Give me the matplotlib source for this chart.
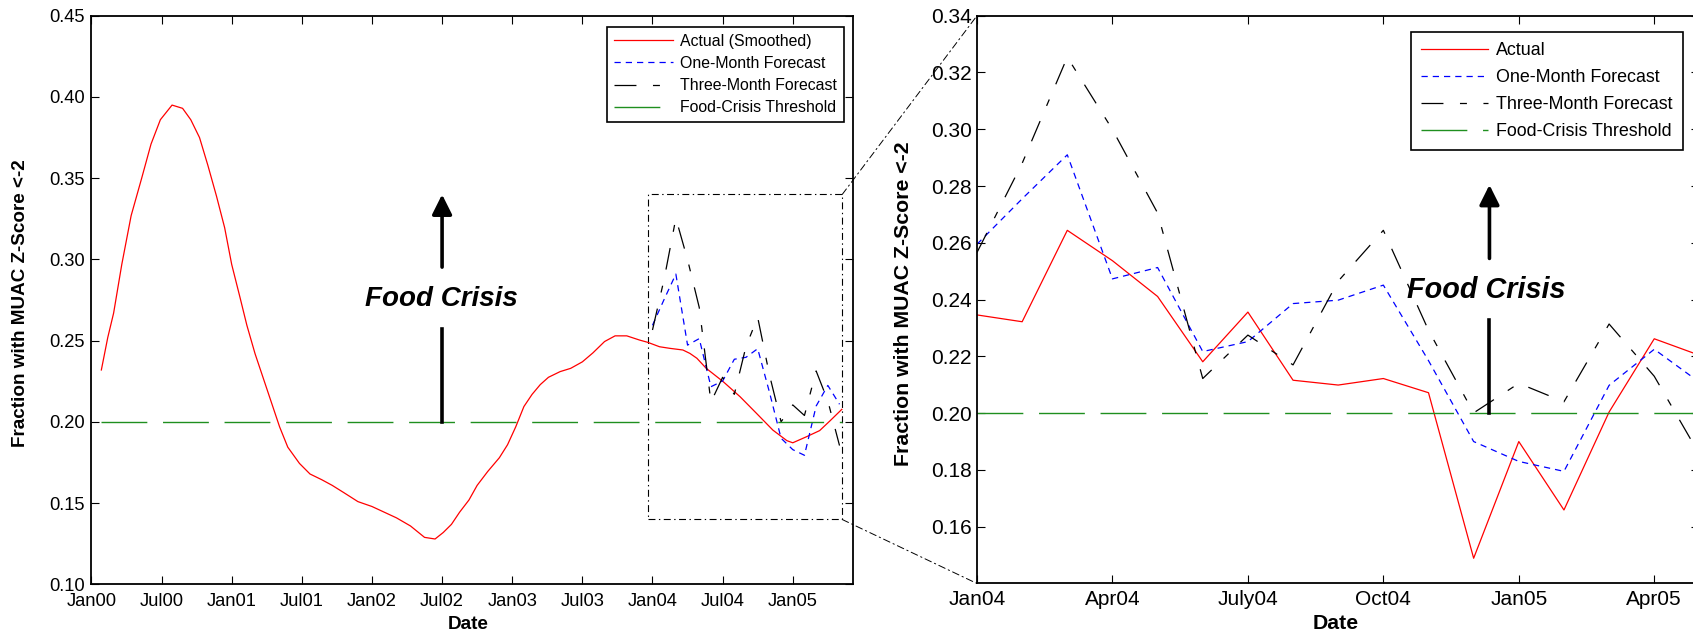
import numpy as np
import matplotlib
matplotlib.use('Agg')
import matplotlib.pyplot as plt
from matplotlib.patches import ConnectionPatch, Rectangle

plt.rcParams['font.family'] = ['Liberation Sans', 'DejaVu Sans']
plt.rcParams['lines.scale_dashes'] = False

# smoothed series, x = months since Jan00
smooth_month = [0.85, 1.4, 1.9, 2.6, 3.4, 4.3, 5.1, 5.9, 6.9, 7.8, 8.5, 9.25, 9.96, 10.7,
                11.4, 12.0, 12.7, 13.3, 14.0, 14.7, 15.4, 16.1, 16.8, 17.8, 18.7, 19.7,
                20.6, 21.6, 22.8, 24.0, 24.9, 26.1, 27.3, 28.5, 29.4, 30.1, 30.8, 31.5,
                32.3, 33.0, 33.9, 34.9, 35.6, 36.3, 37.0, 37.7, 38.4, 39.1, 40.1, 41.0,
                42.0, 42.9, 43.9, 44.8, 45.8, 46.9, 47.6, 48.6, 49.5, 50.6, 51.2, 51.8,
                52.6, 54.05, 55.5, 56.9, 58.3, 59.5, 60.0, 61.2, 62.3, 63.2, 64.2]
smooth_value = [0.232, 0.252, 0.267, 0.297, 0.327, 0.350, 0.371, 0.386, 0.395, 0.393, 0.386,
                0.375, 0.358, 0.339, 0.3195, 0.297, 0.277, 0.2595, 0.242, 0.227, 0.212,
                0.197, 0.1845, 0.1745, 0.168, 0.1645, 0.161, 0.1565, 0.151, 0.148, 0.145,
                0.141, 0.136, 0.129, 0.128, 0.132, 0.137, 0.1445, 0.152, 0.161, 0.1695,
                0.178, 0.186, 0.197, 0.2095, 0.217, 0.223, 0.2275, 0.231, 0.233, 0.237,
                0.2425, 0.2495, 0.253, 0.253, 0.2504, 0.249, 0.2463, 0.2453, 0.2443,
                0.2422, 0.2392, 0.233, 0.2248, 0.2155, 0.2053, 0.195, 0.1885, 0.1872,
                0.191, 0.1947, 0.2008, 0.2078]

# monthly values Jan04 .. May05
fc_month = list(range(48, 65))
actual = [0.2346, 0.2322, 0.2644, 0.2537, 0.2411, 0.2181, 0.2356, 0.2116, 0.2099,
          0.2122, 0.2072, 0.1489, 0.1900, 0.1659, 0.2004, 0.2262, 0.2204]
one_month = [0.2595, 0.2755, 0.2910, 0.2473, 0.2513, 0.2217, 0.2252, 0.2386, 0.2398,
             0.2451, 0.2185, 0.1900, 0.1830, 0.1795, 0.2098, 0.2225, 0.2109]
three_month = [0.2566, 0.2880, 0.3254, 0.2999, 0.2705, 0.2122, 0.2275, 0.2170, 0.2465,
               0.2644, 0.2292, 0.2001, 0.2105, 0.2040, 0.2314, 0.2130, 0.1855]
threshold = 0.20

left_ticks = list(range(0, 61, 6))
left_labels = ['Jan00', 'Jul00', 'Jan01', 'Jul01', 'Jan02', 'Jul02', 'Jan03', 'Jul03',
               'Jan04', 'Jul04', 'Jan05']
right_ticks = [48, 51, 54, 57, 60, 63]
right_labels = ['Jan04', 'Apr04', 'July04', 'Oct04', 'Jan05', 'Apr05']

red = dict(color='red', lw=0.9)
blue = dict(color='blue', lw=0.9, ls=(0, (4.5, 3.6)))
black = dict(color='black', lw=0.9, ls=(0, (15.8, 11.9, 5, 11.9)))
green = dict(color='#1f8f1f', lw=1.0, ls=(0, (33, 11.3)))

fig = plt.figure(figsize=(16.93, 6.37), dpi=100)
ax1 = fig.add_axes([0.05399, 0.08242, 0.45003, 0.89293])
ax2 = fig.add_axes([0.57708, 0.08399, 0.4267, 0.89137])

# ---- left: whole period
ax1.plot(smooth_month, smooth_value, label='Actual (Smoothed)', **red)
ax1.plot(fc_month, one_month, label='One-Month Forecast', **blue)
ax1.plot(fc_month, three_month, label='Three-Month Forecast', **black)
ax1.plot([smooth_month[0], smooth_month[-1]], [threshold, threshold],
         label='Food-Crisis Threshold', **green)

ax1.set_xlim(0, 65.18)
ax1.set_ylim(0.10, 0.45)
ax1.set_xticks(left_ticks)
ax1.set_xticklabels(left_labels)
ax1.set_yticks(np.arange(0.10, 0.451, 0.05))
ax1.set_yticklabels(['%.2f' % v for v in np.arange(0.10, 0.451, 0.05)])
ax1.tick_params(direction='in', top=True, right=True, length=6, width=0.8, labelsize=13.25)
ax1.tick_params(axis='x', pad=6)
ax1.tick_params(axis='y', pad=4.6)
for s in ax1.spines.values():
    s.set_linewidth(1.3)

ax1.set_ylabel('Fraction with MUAC Z-Score <-2', fontsize=13.6, fontweight='bold', va='center')
ax1.yaxis.set_label_coords(-0.0931, 0.4949)
ax1.set_xlabel('Date', fontsize=13.6, fontweight='bold', va='center')
ax1.xaxis.set_label_coords(0.494, -0.0712)

# zoom box
box_x0, box_x1 = 47.64, 64.23
ax1.add_patch(Rectangle((box_x0, 0.14), box_x1 - box_x0, 0.20, fill=False,
                        ls=(0, (5, 2.5, 1, 2.5)), lw=0.8, ec='k'))

ax1.plot([30, 30], [threshold, 0.2573], color='k', lw=2.6)
ax1.annotate('', xy=(30, 0.340), xytext=(30, 0.2953),
             arrowprops=dict(arrowstyle='-|>,head_length=1.2,head_width=0.6',
                             color='k', lw=2.6, shrinkA=0, shrinkB=0))
ax1.text(29.9, 0.2757, 'Food Crisis', fontsize=20, fontweight='bold', fontstyle='italic',
         ha='center', va='center')

leg1 = ax1.legend(loc='upper right', bbox_to_anchor=(0.4985, 0.958),
                  bbox_transform=fig.transFigure, fontsize=11.4, handlelength=3.73,
                  handletextpad=0.45, borderpad=0.45, labelspacing=0.45, borderaxespad=0,
                  fancybox=False, framealpha=1, edgecolor='k')
leg1.get_frame().set_linewidth(1.2)

# ---- right: forecast period
ax2.plot(fc_month, actual, label='Actual', **red)
ax2.plot(fc_month, one_month, label='One-Month Forecast', **blue)
ax2.plot(fc_month, three_month, label='Three-Month Forecast', **black)
ax2.plot([fc_month[0], fc_month[-1]], [threshold, threshold],
         label='Food-Crisis Threshold', **green)

ax2.set_xlim(48, 64)
ax2.set_ylim(0.14, 0.34)
ax2.set_xticks(right_ticks)
ax2.set_xticklabels(right_labels)
ax2.set_yticks(np.arange(0.16, 0.341, 0.02))
ax2.set_yticklabels(['%.2f' % v for v in np.arange(0.16, 0.341, 0.02)])
ax2.tick_params(direction='in', top=True, right=True, length=6, width=0.8, labelsize=15)
ax2.tick_params(axis='x', pad=4.7)
ax2.tick_params(axis='y', pad=3.7)
for s in ax2.spines.values():
    s.set_linewidth(1.3)

ax2.set_ylabel('Fraction with MUAC Z-Score <-2', fontsize=15.3, fontweight='bold', va='center')
ax2.yaxis.set_label_coords(-0.1017, 0.4922)
ax2.set_xlabel('Date', fontsize=15.3, fontweight='bold', va='center')
ax2.xaxis.set_label_coords(0.4963, -0.0713)

ax2.plot([59.35, 59.35], [threshold, 0.2329], color='k', lw=2.6)
ax2.annotate('', xy=(59.35, 0.2804), xytext=(59.35, 0.2545),
             arrowprops=dict(arrowstyle='-|>,head_length=1.2,head_width=0.6',
                             color='k', lw=2.6, shrinkA=0, shrinkB=0))
ax2.text(59.29, 0.2434, 'Food Crisis', fontsize=20.7, fontweight='bold', fontstyle='italic',
         ha='center', va='center')

leg2 = ax2.legend(loc='upper right', bbox_to_anchor=(0.9938, 0.9496),
                  bbox_transform=fig.transFigure, fontsize=12.9, handlelength=3.74,
                  handletextpad=0.45, borderpad=0.55, labelspacing=0.56, borderaxespad=0,
                  fancybox=False, framealpha=1, edgecolor='k')
leg2.get_frame().set_linewidth(1.2)

# lines joining the box to the zoomed axes
for yb, ya in [(0.34, 1), (0.14, 0)]:
    con = ConnectionPatch(xyA=(box_x1, yb), coordsA=ax1.transData,
                          xyB=(0, ya), coordsB=ax2.transAxes,
                          ls=(0, (5, 2.5, 1, 2.5)), lw=0.7, color='k')
    fig.add_artist(con)

fig.savefig('out.png', dpi=100)
